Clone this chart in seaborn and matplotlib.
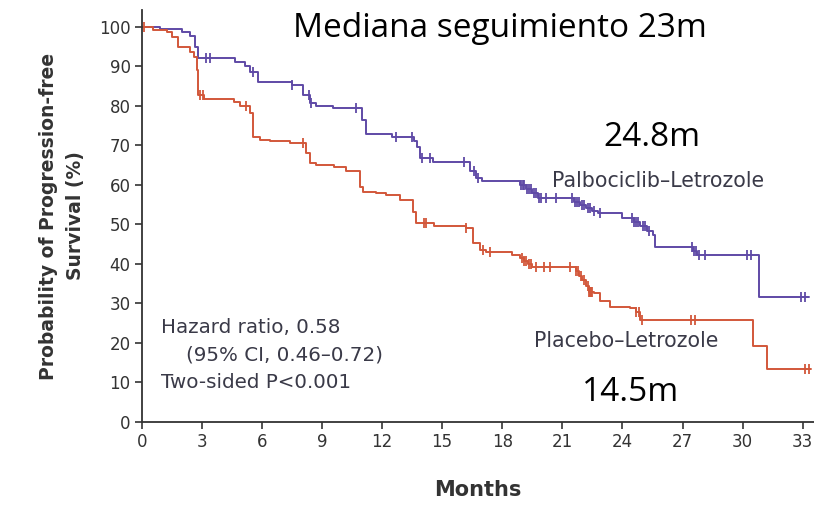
import numpy as np
import pandas as pd
import matplotlib
matplotlib.use("Agg")
import matplotlib.pyplot as plt
import seaborn as sns

# Kaplan-Meier steps: time of each step (months) and survival after it (%)
palbo_times = [0, 0.9, 2.0, 2.4, 2.65, 2.8, 4.66, 5.16, 5.4, 5.8, 7.5, 8.05, 8.4, 8.7,
               9.55, 11.0, 11.2, 12.5, 13.6, 13.75, 13.9, 14.55, 16.4, 16.7, 17.0,
               18.9, 19.2, 19.5, 19.8, 21.6, 21.9, 22.2, 22.5, 22.8, 24.0, 24.6, 24.9,
               25.2, 25.5, 25.6, 27.5, 27.7, 30.8, 33.3]
palbo_surv = [100, 99.4, 98.6, 97.6, 95.0, 92.0, 91.0, 90.2, 88.7, 86.0, 85.3, 82.8, 80.7, 80.0,
              79.4, 76.5, 72.8, 72.2, 71.0, 69.5, 66.8, 65.9, 63.4, 61.7, 61.1,
              60.0, 59.0, 58.0, 56.6, 55.8, 55.0, 54.2, 53.5, 52.8, 51.6, 50.5, 49.5,
              48.3, 47.3, 44.4, 43.3, 42.3, 31.7, 31.7]
palbo_censor = [3.2, 3.4, 5.56, 7.5, 8.35, 8.45, 10.7, 12.7, 13.5, 14.0, 14.4, 16.1, 16.6, 16.8,
                18.95, 19.05, 19.1, 19.25, 19.35, 19.45, 19.6, 19.7, 19.85, 19.95, 20.2, 20.7,
                21.5, 21.65, 21.75, 21.85, 22.0, 22.1, 22.3, 22.4, 22.6, 22.9, 24.5, 24.6,
                24.7, 24.8, 25.0, 25.1, 25.3, 27.45, 27.55, 27.65, 27.8, 28.1, 30.2, 30.4,
                32.9, 33.1]

placebo_times = [0, 0.58, 1.25, 1.5, 1.8, 2.4, 2.6, 2.75, 2.83, 3.1, 4.6, 4.9, 5.4, 5.57, 5.9,
                 6.4, 7.4, 8.2, 8.4, 8.7, 9.6, 10.2, 10.9, 11.06, 11.7, 12.2, 12.9, 13.56,
                 13.7, 14.6, 16.2, 16.55, 16.9, 17.2, 18.5, 18.9, 19.1, 19.3, 19.5, 21.7,
                 21.85, 22.0, 22.2, 22.35, 22.6, 22.9, 23.4, 24.4, 24.7, 24.9, 30.5, 31.2, 33.4]
placebo_surv = [100, 99.2, 98.6, 97.5, 95.0, 93.7, 92.5, 89.0, 82.8, 81.8, 81.1, 80.0, 78.1, 72.2, 71.4,
                71.0, 70.6, 68.0, 65.5, 65.1, 64.6, 63.6, 59.6, 58.3, 57.9, 57.5, 56.3, 53.2,
                50.3, 49.7, 49.0, 45.2, 43.5, 43.1, 42.3, 41.5, 40.8, 40.0, 39.3, 38.2,
                37.0, 36.0, 34.5, 33.0, 32.6, 30.5, 29.2, 28.8, 27.9, 25.8, 19.2, 13.3, 13.3]
placebo_censor = [0.1, 2.9, 3.06, 5.2, 8.05, 14.1, 14.2, 16.2, 17.05, 17.4, 19.0, 19.1, 19.2,
                  19.35, 19.45, 19.7, 20.1, 20.4, 21.4, 21.7, 21.8, 21.95, 22.1, 22.3, 22.35,
                  22.4, 22.45, 22.5, 24.7, 24.85, 24.95, 27.4, 27.6, 33.1, 33.3]

x_ticks = list(range(0, 34, 3))
y_ticks = list(range(0, 101, 10))

PURPLE = "#5f4aa6"
RED = "#d2573a"
TEXT = "#3a3a48"

sns.set_theme(style="white")
plt.rcParams["font.family"] = ["DejaVu Sans"]

fig = plt.figure(figsize=(8.14, 5.05), dpi=100)
ax = fig.add_axes([0.174, 0.1644, 0.826, 0.816])


def surv_at(times, surv, t):
    idx = np.searchsorted(np.asarray(times), t, side="right") - 1
    return np.asarray(surv)[idx]


for times, surv, cens, col in [(palbo_times, palbo_surv, palbo_censor, PURPLE),
                               (placebo_times, placebo_surv, placebo_censor, RED)]:
    df = pd.DataFrame({"t": times, "s": surv})
    sns.lineplot(data=df, x="t", y="s", drawstyle="steps-post", color=col,
                 linewidth=1.4, ax=ax, estimator=None)
    cdf = pd.DataFrame({"t": cens, "s": surv_at(times, surv, np.asarray(cens))})
    sns.scatterplot(data=cdf, x="t", y="s", marker="|", s=60, color=col,
                    linewidth=1.3, ax=ax, zorder=3)

ax.set_xlim(0, 33.56)
ax.set_ylim(0, 104.3)
ax.set_xticks(x_ticks)
ax.set_yticks(y_ticks)
ax.tick_params(axis="both", direction="out", length=5, width=1.2, color="#333333",
               labelsize=12, labelcolor="#333333", bottom=True, left=True, pad=3)
for side in ["top", "right"]:
    ax.spines[side].set_visible(False)
for side in ["left", "bottom"]:
    ax.spines[side].set_color("#333333")
    ax.spines[side].set_linewidth(1.3)

ax.set_xlabel("Months", fontsize=15, fontweight="bold", color="#333333", labelpad=21)
ax.set_ylabel("Probability of Progression-free\nSurvival (%)", fontsize=13.5,
              fontweight="bold", color="#333333", labelpad=10, linespacing=1.55)

ax.text(17.9, 99.5, "Mediana seguimiento 23m", fontsize=24, color="black",
        family="Open Sans", ha="center", va="center")
ax.text(25.45, 72.0, "24.8m", fontsize=24, color="black", family="Open Sans",
        ha="center", va="center")
ax.text(24.4, 7.5, "14.5m", fontsize=24, color="black", family="Open Sans",
        ha="center", va="center")
ax.text(20.5, 61.0, "Palbociclib\u2013Letrozole", fontsize=14.8, color=TEXT, va="center")
ax.text(19.6, 20.5, "Placebo\u2013Letrozole", fontsize=14.8, color=TEXT, va="center")
ax.text(0.95, 24.0, "Hazard ratio, 0.58", fontsize=14.3, color=TEXT, va="center")
ax.text(2.2, 17.0, "(95% CI, 0.46\u20130.72)", fontsize=14.3, color=TEXT, va="center")
ax.text(0.95, 10.0, "Two-sided P<0.001", fontsize=14.3, color=TEXT, va="center")

fig.savefig("out.png", dpi=100)
